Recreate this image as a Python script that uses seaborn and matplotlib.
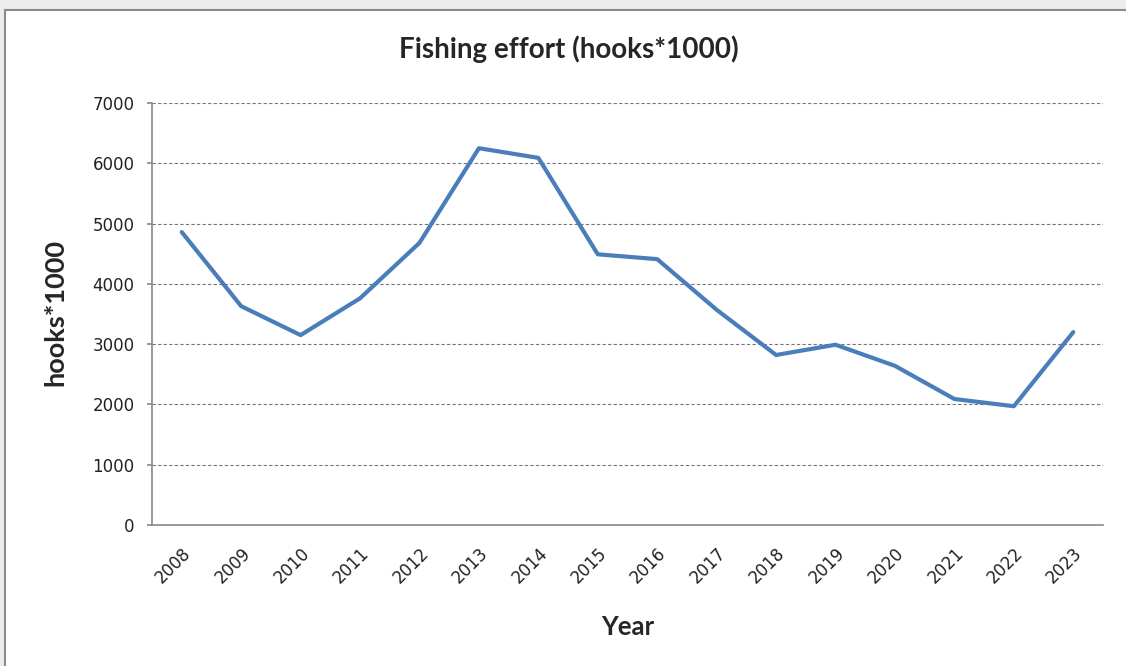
import numpy as np
import pandas as pd
import seaborn as sns
import matplotlib.pyplot as plt
from matplotlib.patches import Rectangle

# data
years = [str(y) for y in range(2008, 2024)]
hooks = [4860, 3630, 3150, 3760, 4680, 6250, 6090, 4490,
         4410, 3570, 2820, 2990, 2640, 2090, 1970, 3200]
y_ticks = [0, 1000, 2000, 3000, 4000, 5000, 6000, 7000]

df = pd.DataFrame({'Year': years, 'hooks': hooks})

sns.set_style('white')
plt.rcParams['font.family'] = ['Lato', 'DejaVu Sans']

fig = plt.figure(figsize=(11.26, 6.66), dpi=100)
fig.patch.set_facecolor('#ececec')
# chart area frame (Excel style)
fig.add_artist(Rectangle((5 / 1126, -0.01), 1.1, 1 - 10 / 666 + 0.01,
                         transform=fig.transFigure, facecolor='white',
                         edgecolor='#8c8c8c', linewidth=1.5, zorder=0))

ax = fig.add_axes([152 / 1126, 1 - 525 / 666, (1103 - 152) / 1126, (525 - 103) / 666])
ax.set_facecolor('none')

sns.lineplot(data=df, x='Year', y='hooks', ax=ax, color='#4a7ebb',
             linewidth=3, sort=False)

tick_font = dict(family='DejaVu Sans', size=12, color='#222222')

ax.set_ylim(0, 7000)
ax.set_xlim(-0.5, len(years) - 0.5)
ax.set_yticks(y_ticks)
ax.set_yticklabels([str(v) for v in y_ticks], **tick_font)
for v in y_ticks[1:]:
    ax.axhline(v, color='#777777', linestyle=(0, (3, 2)), linewidth=0.8, zorder=0)

# labels at category centers, tick marks at category edges
ax.set_xticks(range(len(years)))
ax.set_xticklabels(years, rotation=45, ha='right', rotation_mode='anchor', **tick_font)
ax.set_xticks(np.arange(-0.5, len(years), 1), minor=True)
ax.tick_params(axis='x', which='major', length=0, pad=14)
ax.tick_params(axis='x', which='minor', length=3.6, color='#888888', width=1.2)
ax.tick_params(axis='y', length=3.6, color='#888888', width=1.2, left=True, pad=9)

for s in ['top', 'right']:
    ax.spines[s].set_visible(False)
for s in ['left', 'bottom']:
    ax.spines[s].set_color('#888888')
    ax.spines[s].set_linewidth(1.2)

ax.set_xlabel('Year', fontsize=18.5, fontweight='bold', va='center')
ax.set_ylabel('hooks*1000', fontsize=19.5, fontweight='bold', va='center')
ax.xaxis.set_label_coords((628 - 152) / 951, (525 - 627) / 422)
ax.yaxis.set_label_coords((55 - 152) / 951, (525 - 313) / 422)

fig.text(569 / 1126, 1 - 49 / 666, 'Fishing effort (hooks*1000)', ha='center',
         va='center', fontsize=20, fontweight='bold')

fig.savefig('out.png', dpi=100, facecolor=fig.get_facecolor())
